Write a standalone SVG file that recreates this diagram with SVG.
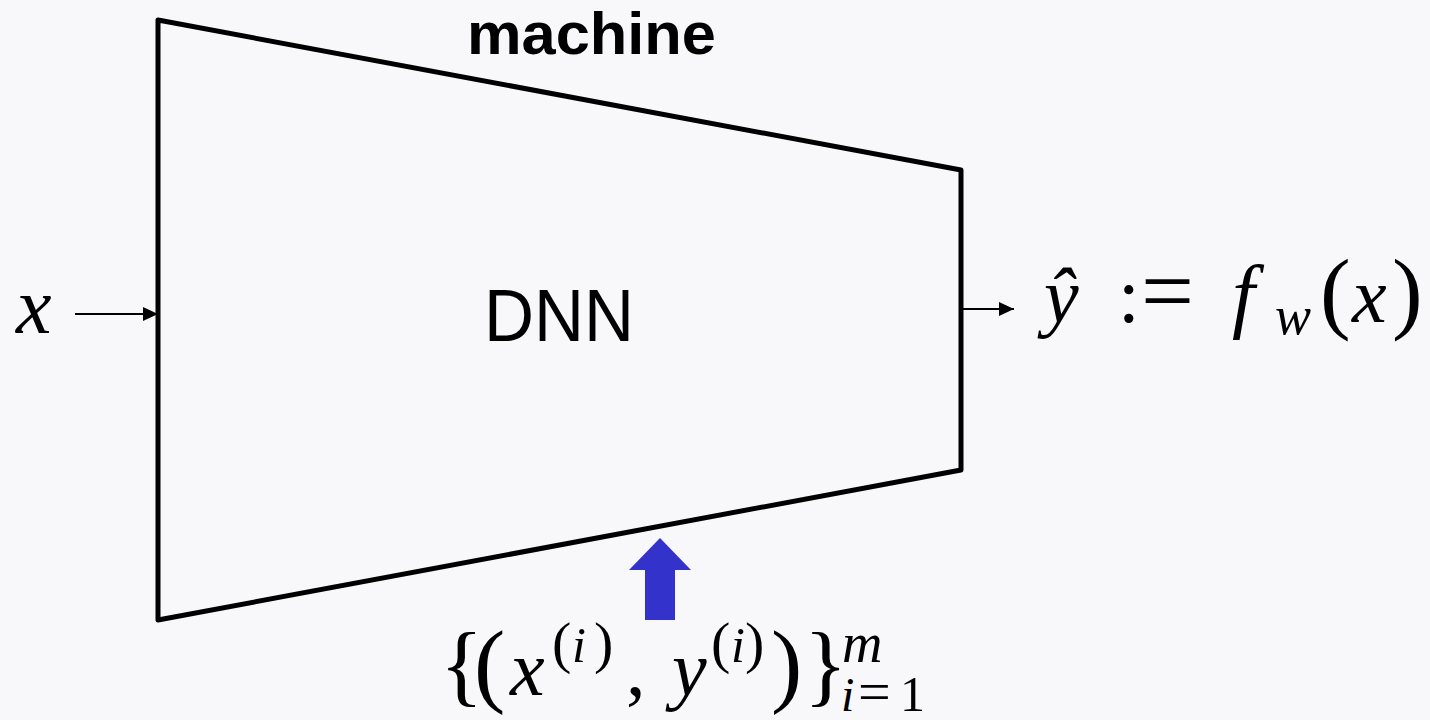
<svg xmlns="http://www.w3.org/2000/svg" width="1430" height="720" viewBox="0 0 1430 720">
<style>
.math{font-family:"Liberation Serif","DejaVu Serif",serif;fill:#000}
.it{font-style:italic}
.conn{stroke:#000;stroke-width:2;fill:none}
</style>
<defs>
<marker id="ah2" viewBox="0 0 15 14" refX="15" refY="7" markerWidth="15" markerHeight="14" markerUnits="userSpaceOnUse" orient="auto">
<path d="M0,0 L15,7 L0,14 z" fill="#000"/>
</marker>
</defs>
<rect width="1430" height="720" fill="#f8f8fa"/>
<g id="machine">
<polygon points="158,20 961,170 961,470 158,620" fill="#f8f8fa" stroke="#000" stroke-width="5" stroke-linejoin="round"/>
<text x="467" y="54" font-family="Liberation Sans, Arial, sans-serif" font-weight="bold" font-size="60" textLength="249" lengthAdjust="spacingAndGlyphs">machine</text>
<text x="484" y="341" font-family="Liberation Sans, Arial, sans-serif" font-size="74" textLength="150" lengthAdjust="spacingAndGlyphs">DNN</text>
</g>
<g id="input">
<text class="math it" x="16" y="333" font-size="80">x</text>
</g>
<g id="output">
<text class="math" y="322" font-size="78"><tspan class="it" x="1044">ŷ</tspan><tspan x="1118">:</tspan><tspan x="1141" font-size="94">=</tspan><tspan class="it" x="1232" font-size="82">f</tspan><tspan class="it" x="1275" y="334" font-size="54">w</tspan><tspan x="1320" y="322" font-size="92">(</tspan><tspan class="it" x="1352">x</tspan><tspan x="1392" font-size="92">)</tspan></text>
</g>
<g id="data">
<path d="M645,620 L645,570 L629,570 L660,538 L691,570 L675,570 L675,620 Z" fill="#3333cc"/>
<text class="math" y="695" font-size="78"><tspan x="440" font-size="90">{</tspan><tspan x="474" font-size="94">(</tspan><tspan class="it" x="510">x</tspan><tspan x="552" y="662" font-size="58">(</tspan><tspan class="it" x="572" font-size="50">i</tspan><tspan x="594" font-size="58">)</tspan><tspan x="626" y="695">,</tspan><tspan class="it" x="672">y</tspan><tspan x="711" y="662" font-size="58">(</tspan><tspan class="it" x="731" font-size="50">i</tspan><tspan x="745" font-size="58">)</tspan><tspan x="771" y="695" font-size="94">)</tspan><tspan x="804" font-size="90">}</tspan><tspan class="it" x="842" y="662" font-size="56">m</tspan><tspan class="it" x="841" y="711" font-size="48">i</tspan><tspan x="858" font-size="58">=</tspan><tspan x="900" font-size="50">1</tspan></text>
</g>
<g id="connectors">
<line class="conn" x1="75" y1="314" x2="158" y2="314" marker-end="url(#ah2)"/>
<line class="conn" x1="962" y1="309" x2="1014" y2="309" marker-end="url(#ah2)"/>
</g>
</svg>
